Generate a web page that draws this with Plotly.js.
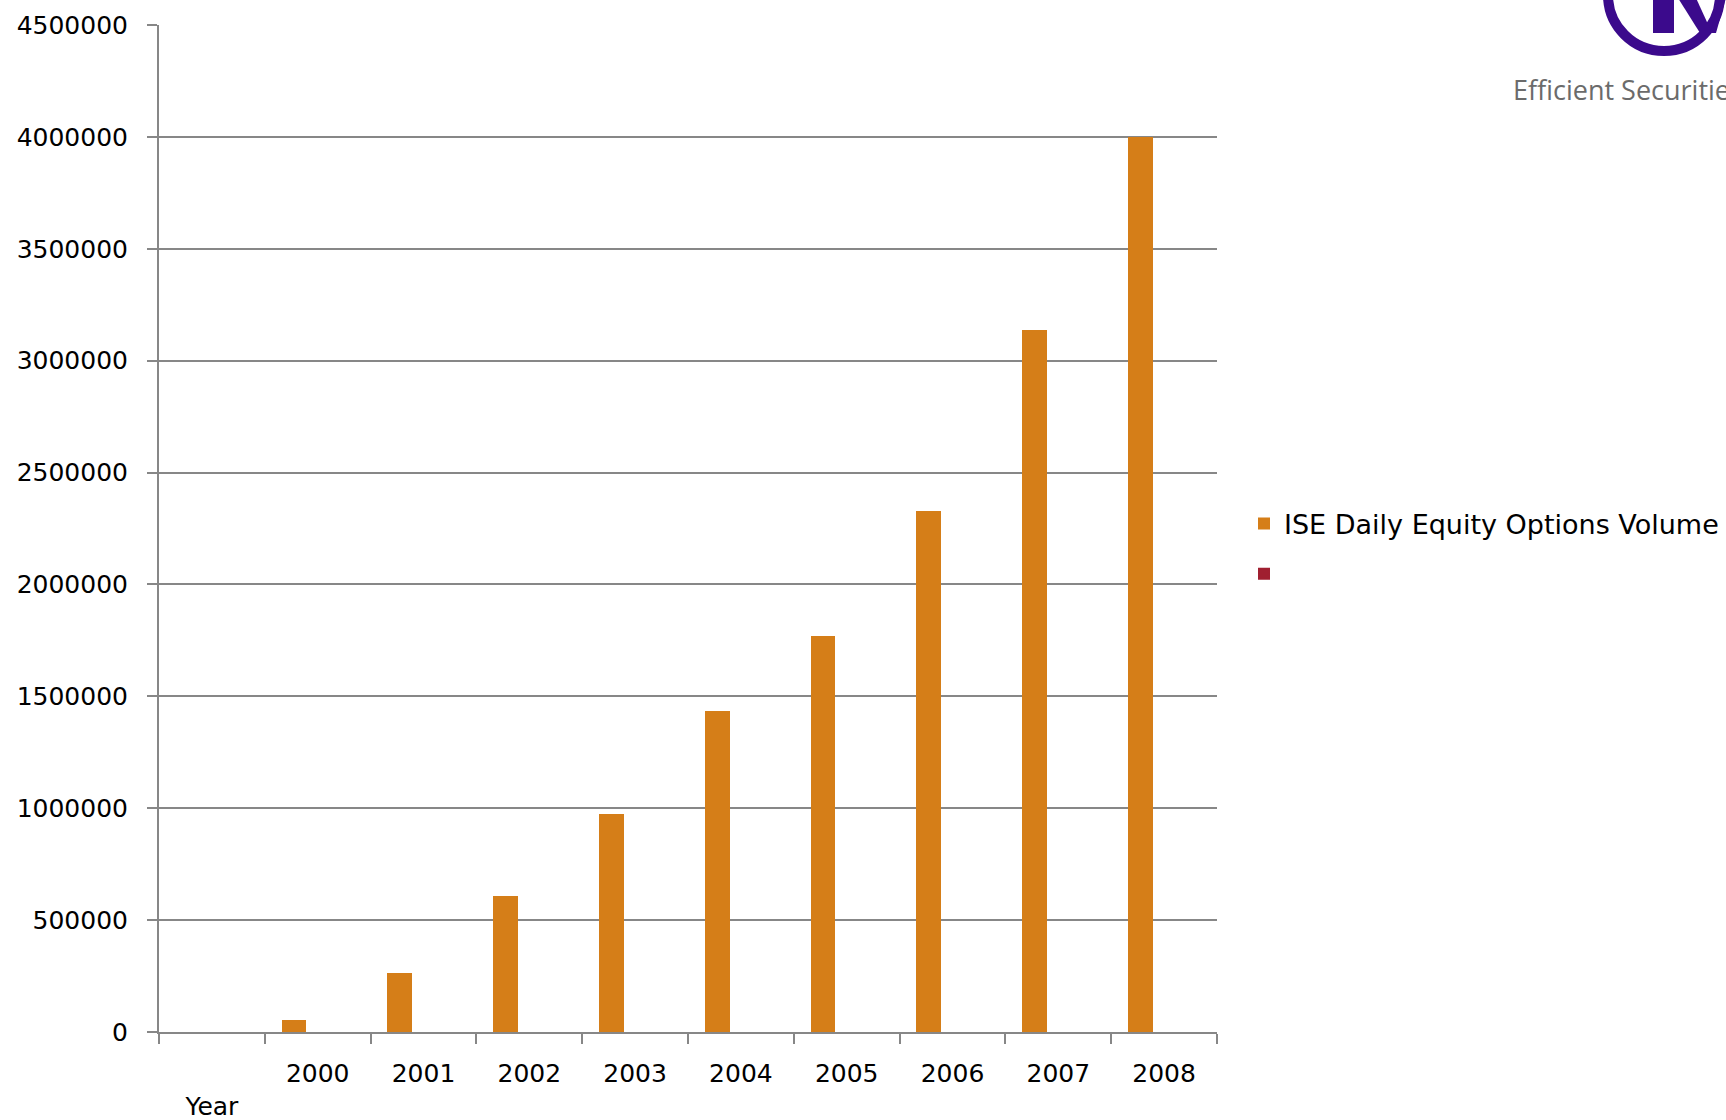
<!DOCTYPE html>
<html>
<head>
<meta charset="utf-8">
<script src="https://cdn.plot.ly/plotly-3.0.1.min.js"></script>
<style>html,body{margin:0;padding:0;background:#fff;}#chart{width:1726px;height:1120px;}</style>
</head>
<body>
<div id="chart"></div>
<script>
// Data
const categories = ["Year", "2000", "2001", "2002", "2003", "2004", "2005", "2006", "2007", "2008"];
const volume = [null, 55000, 265000, 610000, 975000, 1436000, 1768000, 2326000, 3139000, 3998000];
const blankSeries = [null, null, null, null, null, null, null, null, null, null];
const seriesNames = ["ISE Daily Equity Options Volume", " "];
const yTicks = [0, 500000, 1000000, 1500000, 2000000, 2500000, 3000000, 3500000, 4000000, 4500000];
const tickLabels = categories.map(c => c === "Year" ? "<br>Year" : c);

const W = 1726, H = 1120;
const L = 159, R = 509, T = 25, B = 88;
const pw = W - L - R, ph = H - T - B;
const px = v => (v - L) / pw;
const py = v => (H - B - v) / ph;

const grey = "#878787";
const font = "DejaVu Sans, Verdana, sans-serif";

const traces = [
  {
    type: "bar", x: categories, y: volume, name: seriesNames[0],
    marker: {color: "#D57E18"}, offset: -0.341, width: 0.235,
    legendgroup: "a", hoverinfo: "x+y"
  },
  {
    type: "bar", x: categories, y: blankSeries, name: seriesNames[1],
    marker: {color: "#A01F30"}, legendgroup: "b", hoverinfo: "skip"
  }
];

const purple = "#3B0A8C";
const layout = {
  width: W, height: H,
  margin: {l: L, r: R, t: T, b: B, pad: 0, autoexpand: false},
  paper_bgcolor: "#ffffff", plot_bgcolor: "#ffffff",
  font: {family: font, size: 25, color: "#000"},
  showlegend: true,
  legend: {
    x: px(1244), xanchor: "left", y: py(549), yanchor: "middle",
    font: {family: font, size: 27, color: "#000"},
    traceorder: "grouped", tracegroupgap: 12,
    itemwidth: 30, bgcolor: "rgba(0,0,0,0)", borderwidth: 0
  },
  bargap: 0,
  xaxis: {
    type: "category", categoryorder: "array", categoryarray: categories,
    tickmode: "array", tickvals: categories, ticktext: tickLabels,
    range: [-0.5, 9.5],
    tickson: "boundaries", ticks: "outside", ticklen: 10, tickwidth: 2, tickcolor: grey,
    showline: true, linecolor: grey, linewidth: 2,
    showgrid: false, zeroline: false,
    ticklabelstandoff: 18,
    tickfont: {family: font, size: 25, color: "#000"}
  },
  yaxis: {
    range: [0, 4500000], tickmode: "array", tickvals: yTicks,
    ticktext: yTicks.map(v => String(v)),
    ticks: "outside", ticklen: 10, tickwidth: 2, tickcolor: grey,
    showline: true, linecolor: grey, linewidth: 2,
    showgrid: true, gridcolor: grey, gridwidth: 2, zeroline: false,
    ticklabelstandoff: 14,
    tickfont: {family: font, size: 25, color: "#000"}
  },
  shapes: [
    {type: "circle", xref: "paper", yref: "paper",
     x0: px(1608), x1: px(1720), y0: py(51), y1: py(-61),
     line: {color: purple, width: 10}, fillcolor: "rgba(0,0,0,0)", layer: "above"},
    {type: "rect", xref: "paper", yref: "paper",
     x0: px(1653), x1: px(1674), y0: py(33), y1: py(-2),
     line: {width: 0}, fillcolor: purple, layer: "above"},
    {type: "path", xref: "paper", yref: "paper",
     path: "M" + px(1678) + "," + py(-2) + " L" + px(1696) + "," + py(-2) + " L" + px(1712) + "," + py(33) + " L" + px(1700) + "," + py(33) + " Z",
     line: {width: 0}, fillcolor: purple, layer: "above"},
    {type: "path", xref: "paper", yref: "paper",
     path: "M" + px(1710) + "," + py(33) + " L" + px(1716) + "," + py(33) + " L" + px(1726) + "," + py(-2) + " L" + px(1720) + "," + py(-2) + " Z",
     line: {width: 0}, fillcolor: purple, layer: "above"}
  ],
  annotations: [
    {text: "Efficient Securities", xref: "paper", yref: "paper",
     x: px(1511), y: py(90), xanchor: "left", yanchor: "middle",
     showarrow: false, font: {family: "Open Sans, sans-serif", size: 27, color: "#6b6b6b"}}
  ]
};

Plotly.newPlot("chart", traces, layout, {displayModeBar: false, staticPlot: true});
</script>
</body>
</html>
